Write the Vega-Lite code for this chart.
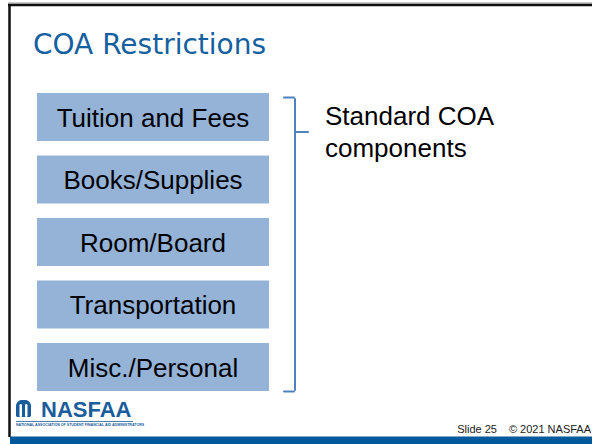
{
  "$schema": "https://vega.github.io/schema/vega-lite/v6.json",
  "width": 592,
  "height": 444,
  "padding": 0,
  "autosize": {"type": "none"},
  "background": "white",
  "config": {"view": {"stroke": null}},
  "resolve": {"scale": {"y": "independent"}},
  "layer": [
    {
      "data": {"values": [
        {"label": "Tuition and Fees", "group": "Standard COA components"},
        {"label": "Books/Supplies", "group": "Standard COA components"},
        {"label": "Room/Board", "group": "Standard COA components"},
        {"label": "Transportation", "group": "Standard COA components"},
        {"label": "Misc./Personal", "group": "Standard COA components"}
      ]},
      "encoding": {
        "y": {"field": "label", "type": "nominal", "sort": null, "axis": null,
          "scale": {"domain": ["Tuition and Fees", "Books/Supplies", "Room/Board", "Transportation", "Misc./Personal"],
            "range": [85.75, 398.25], "paddingInner": 0.232, "paddingOuter": 0.116}}
      },
      "layer": [
        {
          "mark": {"type": "rect", "color": "#95b3d7"},
          "encoding": {
            "x": {"datum": 37, "type": "quantitative", "axis": null, "scale": {"domain": [0, 592], "range": [0, 592]}},
            "x2": {"datum": 269}
          }
        },
        {
          "mark": {"type": "text", "font": "Liberation Sans", "fontSize": 26, "color": "#000000", "align": "center", "baseline": "alphabetic", "dy": 9.5},
          "encoding": {
            "x": {"datum": 153, "type": "quantitative", "axis": null, "scale": {"domain": [0, 592], "range": [0, 592]}},
            "text": {"field": "label"}
          }
        }
      ]
    },
    {
      "data": {"values": [{}]},
      "layer": [
        {
          "mark": {"type": "rule", "color": "#9a9a9a", "strokeWidth": 1},
          "encoding": {
            "x": {"datum": 8, "type": "quantitative", "axis": null, "scale": {"domain": [0, 592], "range": [0, 592]}},
            "x2": {"datum": 592},
            "y": {"datum": 3, "type": "quantitative", "axis": null, "scale": {"domain": [0, 444], "range": [0, 444]}}
          }
        },
        {
          "mark": {"type": "rule", "color": "#111111", "strokeWidth": 2.5},
          "encoding": {
            "x": {"datum": 8, "type": "quantitative", "axis": null, "scale": {"domain": [0, 592], "range": [0, 592]}},
            "x2": {"datum": 592},
            "y": {"datum": 5, "type": "quantitative", "axis": null, "scale": {"domain": [0, 444], "range": [0, 444]}}
          }
        },
        {
          "mark": {"type": "rule", "color": "#111111", "strokeWidth": 2.5},
          "encoding": {
            "x": {"datum": 9.5, "type": "quantitative", "axis": null, "scale": {"domain": [0, 592], "range": [0, 592]}},
            "y": {"datum": 4, "type": "quantitative", "axis": null, "scale": {"domain": [0, 444], "range": [0, 444]}},
            "y2": {"datum": 437}
          }
        },
        {
          "mark": {"type": "rect", "color": "#00599a"},
          "encoding": {
            "x": {"datum": 10, "type": "quantitative", "axis": null, "scale": {"domain": [0, 592], "range": [0, 592]}},
            "x2": {"datum": 592},
            "y": {"datum": 436.5, "type": "quantitative", "axis": null, "scale": {"domain": [0, 444], "range": [0, 444]}},
            "y2": {"datum": 444}
          }
        },
        {
          "mark": {"type": "text", "font": "DejaVu Sans", "fontSize": 28, "color": "#15609f", "align": "left", "baseline": "alphabetic"},
          "encoding": {
            "x": {"datum": 33, "type": "quantitative", "axis": null, "scale": {"domain": [0, 592], "range": [0, 592]}},
            "y": {"datum": 54, "type": "quantitative", "axis": null, "scale": {"domain": [0, 444], "range": [0, 444]}},
            "text": {"value": "COA Restrictions"}
          }
        },
        {
          "mark": {"type": "rule", "color": "#4f81bd", "strokeWidth": 2, "strokeCap": "round"},
          "encoding": {
            "x": {"datum": 295, "type": "quantitative", "axis": null, "scale": {"domain": [0, 592], "range": [0, 592]}},
            "y": {"datum": 99, "type": "quantitative", "axis": null, "scale": {"domain": [0, 444], "range": [0, 444]}},
            "y2": {"datum": 390}
          }
        },
        {
          "mark": {"type": "rule", "color": "#4f81bd", "strokeWidth": 2, "strokeCap": "round"},
          "encoding": {
            "x": {"datum": 284, "type": "quantitative", "axis": null, "scale": {"domain": [0, 592], "range": [0, 592]}},
            "x2": {"datum": 294},
            "y": {"datum": 97.5, "type": "quantitative", "axis": null, "scale": {"domain": [0, 444], "range": [0, 444]}}
          }
        },
        {
          "mark": {"type": "rule", "color": "#4f81bd", "strokeWidth": 2, "strokeCap": "round"},
          "encoding": {
            "x": {"datum": 296, "type": "quantitative", "axis": null, "scale": {"domain": [0, 592], "range": [0, 592]}},
            "x2": {"datum": 308},
            "y": {"datum": 132, "type": "quantitative", "axis": null, "scale": {"domain": [0, 444], "range": [0, 444]}}
          }
        },
        {
          "mark": {"type": "rule", "color": "#4f81bd", "strokeWidth": 2, "strokeCap": "round"},
          "encoding": {
            "x": {"datum": 284, "type": "quantitative", "axis": null, "scale": {"domain": [0, 592], "range": [0, 592]}},
            "x2": {"datum": 294},
            "y": {"datum": 391.5, "type": "quantitative", "axis": null, "scale": {"domain": [0, 444], "range": [0, 444]}}
          }
        },
        {
          "mark": {"type": "text", "font": "Liberation Sans", "fontSize": 26, "color": "#000000", "align": "left", "baseline": "alphabetic", "lineBreak": "\n", "lineHeight": 32},
          "encoding": {
            "x": {"datum": 325, "type": "quantitative", "axis": null, "scale": {"domain": [0, 592], "range": [0, 592]}},
            "y": {"datum": 125, "type": "quantitative", "axis": null, "scale": {"domain": [0, 444], "range": [0, 444]}},
            "text": {"value": "Standard COA\ncomponents"}
          }
        },
        {
          "mark": {"type": "rect", "color": "#1a5d9c", "cornerRadiusTopLeft": 6, "cornerRadiusTopRight": 6, "cornerRadiusBottomLeft": 1.5, "cornerRadiusBottomRight": 1.5},
          "encoding": {
            "x": {"datum": 16, "type": "quantitative", "axis": null, "scale": {"domain": [0, 592], "range": [0, 592]}},
            "x2": {"datum": 31},
            "y": {"datum": 400, "type": "quantitative", "axis": null, "scale": {"domain": [0, 444], "range": [0, 444]}},
            "y2": {"datum": 417}
          }
        },
        {
          "mark": {"type": "rect", "color": "#ffffff", "cornerRadius": 1.5},
          "encoding": {
            "x": {"datum": 19.5, "type": "quantitative", "axis": null, "scale": {"domain": [0, 592], "range": [0, 592]}},
            "x2": {"datum": 22},
            "y": {"datum": 404, "type": "quantitative", "axis": null, "scale": {"domain": [0, 444], "range": [0, 444]}},
            "y2": {"datum": 417}
          }
        },
        {
          "mark": {"type": "rect", "color": "#ffffff", "cornerRadius": 1.5},
          "encoding": {
            "x": {"datum": 25, "type": "quantitative", "axis": null, "scale": {"domain": [0, 592], "range": [0, 592]}},
            "x2": {"datum": 27.5},
            "y": {"datum": 404, "type": "quantitative", "axis": null, "scale": {"domain": [0, 444], "range": [0, 444]}},
            "y2": {"datum": 417}
          }
        },
        {
          "mark": {"type": "text", "font": "Liberation Sans", "fontWeight": "bold", "fontSize": 22, "color": "#1a5d9c", "align": "left", "baseline": "alphabetic"},
          "encoding": {
            "x": {"datum": 41, "type": "quantitative", "axis": null, "scale": {"domain": [0, 592], "range": [0, 592]}},
            "y": {"datum": 417, "type": "quantitative", "axis": null, "scale": {"domain": [0, 444], "range": [0, 444]}},
            "text": {"value": "NASFAA"}
          }
        },
        {
          "mark": {"type": "rule", "color": "#1a5d9c", "strokeWidth": 0.8},
          "encoding": {
            "x": {"datum": 16, "type": "quantitative", "axis": null, "scale": {"domain": [0, 592], "range": [0, 592]}},
            "x2": {"datum": 133},
            "y": {"datum": 421.5, "type": "quantitative", "axis": null, "scale": {"domain": [0, 444], "range": [0, 444]}}
          }
        },
        {
          "mark": {"type": "text", "font": "Liberation Sans", "fontWeight": "bold", "fontSize": 3.6, "color": "#1a5d9c", "align": "left", "baseline": "alphabetic"},
          "encoding": {
            "x": {"datum": 16, "type": "quantitative", "axis": null, "scale": {"domain": [0, 592], "range": [0, 592]}},
            "y": {"datum": 425.5, "type": "quantitative", "axis": null, "scale": {"domain": [0, 444], "range": [0, 444]}},
            "text": {"value": "NATIONAL ASSOCIATION OF STUDENT FINANCIAL AID ADMINISTRATORS"}
          }
        },
        {
          "mark": {"type": "text", "font": "Liberation Sans", "fontSize": 11, "color": "#222222", "align": "right", "baseline": "alphabetic"},
          "encoding": {
            "x": {"datum": 497, "type": "quantitative", "axis": null, "scale": {"domain": [0, 592], "range": [0, 592]}},
            "y": {"datum": 432.5, "type": "quantitative", "axis": null, "scale": {"domain": [0, 444], "range": [0, 444]}},
            "text": {"value": "Slide 25"}
          }
        },
        {
          "mark": {"type": "text", "font": "Liberation Sans", "fontSize": 11, "color": "#222222", "align": "right", "baseline": "alphabetic"},
          "encoding": {
            "x": {"datum": 591, "type": "quantitative", "axis": null, "scale": {"domain": [0, 592], "range": [0, 592]}},
            "y": {"datum": 432.5, "type": "quantitative", "axis": null, "scale": {"domain": [0, 444], "range": [0, 444]}},
            "text": {"value": "© 2021 NASFAA"}
          }
        }
      ]
    }
  ]
}
